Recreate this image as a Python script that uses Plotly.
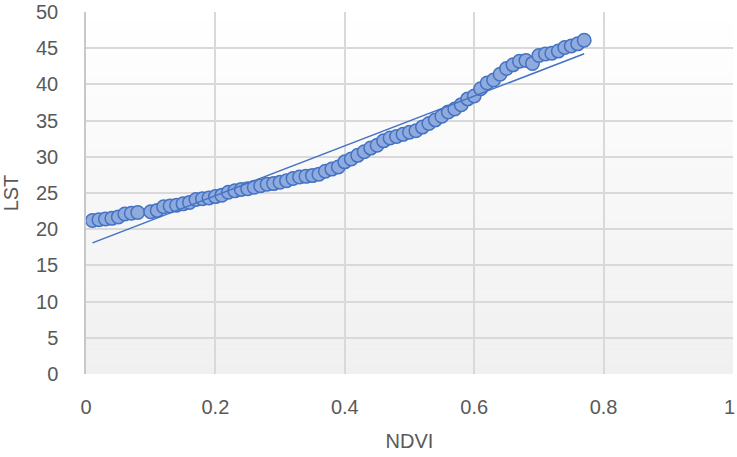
import numpy as np
import plotly.graph_objects as go

ndvi = [0.01, 0.02, 0.03, 0.04, 0.05, 0.06, 0.07, 0.08,
        0.10, 0.11, 0.12, 0.13, 0.14, 0.15, 0.16, 0.17, 0.18, 0.19, 0.20,
        0.21, 0.22, 0.23, 0.24, 0.25, 0.26, 0.27, 0.28, 0.29, 0.30,
        0.31, 0.32, 0.33, 0.34, 0.35, 0.36, 0.37, 0.38, 0.39, 0.40,
        0.41, 0.42, 0.43, 0.44, 0.45, 0.46, 0.47, 0.48, 0.49, 0.50,
        0.51, 0.52, 0.53, 0.54, 0.55, 0.56, 0.57, 0.58, 0.59, 0.60,
        0.61, 0.62, 0.63, 0.64, 0.65, 0.66, 0.67, 0.68, 0.69, 0.70,
        0.71, 0.72, 0.73, 0.74, 0.75, 0.76, 0.77]
lst = [21.2, 21.3, 21.4, 21.5, 21.7, 22.1, 22.2, 22.3,
       22.4, 22.6, 23.1, 23.2, 23.3, 23.5, 23.7, 24.1, 24.2, 24.3, 24.5,
       24.7, 25.1, 25.3, 25.5, 25.6, 25.8, 26.0, 26.2, 26.3, 26.5,
       26.7, 27.0, 27.2, 27.3, 27.4, 27.6, 28.0, 28.3, 28.6, 29.3,
       29.7, 30.2, 30.7, 31.2, 31.6, 32.2, 32.6, 32.8, 33.1, 33.4,
       33.6, 34.1, 34.6, 35.1, 35.6, 36.2, 36.6, 37.2, 38.0, 38.4,
       39.4, 40.2, 40.6, 41.4, 42.2, 42.7, 43.2, 43.3, 42.9, 44.0,
       44.2, 44.3, 44.6, 45.1, 45.3, 45.6, 46.1]

x_ticks = [0, 0.2, 0.4, 0.6, 0.8, 1]
x_tick_labels = ["0", "0.2", "0.4", "0.6", "0.8", "1"]
y_ticks = list(range(0, 51, 5))

slope, intercept = np.polyfit(ndvi, lst, 1)
trend_x = [min(ndvi), max(ndvi)]
trend_y = [slope * v + intercept for v in trend_x]

fig = go.Figure()
fig.add_trace(go.Scatter(
    x=ndvi, y=lst, mode="markers",
    marker=dict(size=13.5, color="#8faadc", line=dict(color="#4472c4", width=1.5)),
    showlegend=False, cliponaxis=False,
))
fig.add_trace(go.Scatter(
    x=trend_x, y=trend_y, mode="lines",
    line=dict(color="#4472c4", width=1.5),
    showlegend=False,
))

# subtle vertical gradient of the plot area (white at top, light grey at bottom)
n_bands = 40
for i in range(n_bands):
    t = (i + 0.5) / n_bands
    g = int(round(255 - (255 - 240) * t))
    fig.add_shape(
        type="rect", xref="x domain", yref="y domain",
        x0=0, x1=1, y0=1 - (i + 1) / n_bands, y1=1 - i / n_bands,
        fillcolor=f"rgb({g},{g},{g})", line=dict(width=0), layer="below",
    )

font_family = "Liberation Sans, Arial, sans-serif"
fs = 20
grid_c = "#d9d9d9"
label_c = "#595959"

# last x tick label drawn as an annotation so it stays inside the page edge
axis_text = [t if v != x_ticks[-1] else "" for v, t in zip(x_ticks, x_tick_labels)]
fig.add_annotation(
    x=x_ticks[-1], xref="x", y=0, yref="paper",
    text=x_tick_labels[-1], showarrow=False,
    xanchor="right", yanchor="middle", xshift=4, yshift=-33,
    font=dict(family=font_family, size=fs, color=label_c),
)

fig.update_layout(
    width=737, height=457,
    margin=dict(l=86, r=4, t=12, b=83),
    paper_bgcolor="white", plot_bgcolor="white",
    font=dict(family=font_family, size=fs, color=label_c),
    xaxis=dict(
        range=[0, 1], tickvals=x_ticks, ticktext=axis_text,
        showgrid=True, gridcolor=grid_c, gridwidth=1.5,
        zeroline=False, showline=False, automargin=False,
        ticklabeloverflow="allow",
        tickfont=dict(size=fs, color=label_c),
        title=dict(text="NDVI", font=dict(size=fs, color=label_c), standoff=16),
        ticks="outside", ticklen=15, tickcolor="rgba(0,0,0,0)",
    ),
    yaxis=dict(
        range=[0, 50], tickvals=y_ticks,
        showgrid=True, gridcolor=grid_c, gridwidth=1.5,
        zeroline=False, showline=True, linecolor="#c8c8c8", linewidth=1.5,
        automargin=False, ticklabeloverflow="allow",
        tickfont=dict(size=fs, color=label_c),
        title=dict(text="LST", font=dict(size=fs, color=label_c), standoff=13),
        ticks="outside", ticklen=22, tickcolor="rgba(0,0,0,0)",
    ),
)

fig.write_html(
    "out.html",
    config={"displayModeBar": False},
    post_script="document.body.style.margin='0';document.body.style.overflow='hidden';",
)
